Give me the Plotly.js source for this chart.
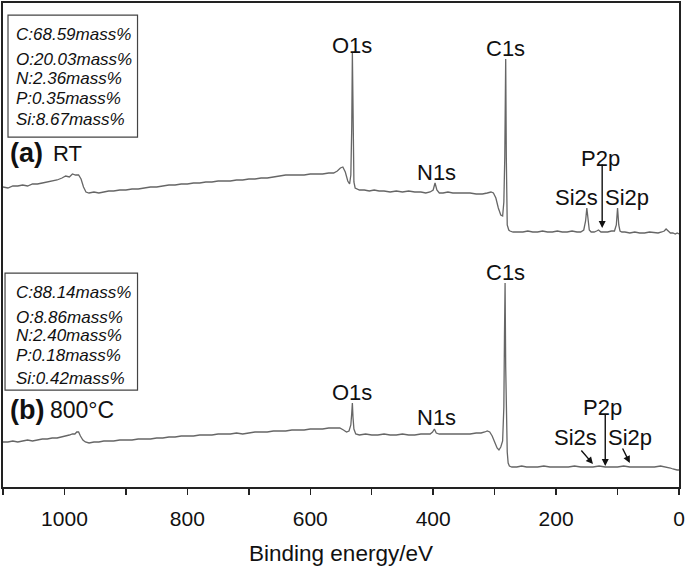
<!DOCTYPE html>
<html>
<head>
<meta charset="utf-8">
<script src="https://cdn.plot.ly/plotly-3.0.1.min.js"></script>
<style>html,body{margin:0;padding:0;background:#fff;}#chart{width:685px;height:567px;}</style>
</head>
<body>
<div id="chart"></div>
<script>
// Binding energy (eV) and intensity (a.u., stacked) for spectrum (a) RT
const energyA = [1100,1092,1084,1076,1068,1060,1052,1044,1036,1028,1020,1012,1004,998,992,987,982,977,973,969,965,960,952,944,936,928,920,910,900,890,880,870,860,850,840,830,820,810,800,790,780,770,760,750,740,730,720,710,700,690,680,670,660,650,640,630,620,610,600,590,580,570,562,556,551,547,543,539,536,534,532.5,531.5,530.5,529,527,520,512,504,496,488,480,470,460,450,440,430,420,412,405,400,397,394,390,384,376,368,360,350,340,330,320,312,306,302,298,294,290,287,285,283.5,282,281,279.5,277,275,270,262,254,246,238,230,222,214,206,198,190,182,174,166,160,155,152,150,148,146,143,138,134,131,127,122,116,110,105,102,100,98,96,93,88,80,72,64,56,48,40,34,28,24,21,18,14,10,6,3,0];
const intensityA = [300,299,301,301,302,301,303,303,304,305,306,307,309,311,310,313,312,312,308,300,295,294,295,294,295,296,296,297,297,298,298,299,300,300,301,302,302,303,303,304,304,305,305,306,306,306,307,307,308,308,309,309,310,311,312,312,312,312,313,313,313,314,314,316,319,320,315,306,303,312,360,434,360,305,299,297,297,296,297,296,296,295,296,295,296,295,295,294,295,297,304,297,294,294,295,294,294,294,294,293,293,294,295,294,289,279,272,271,285,330,428,330,262,257,256,255,255,255,256,255,255,256,255,255,256,255,255,256,255,255,257,266,279,266,257,255,255,256,257,255,255,255,256,256,262,279,262,256,255,255,254,255,254,254,255,254,254,255,256,258,256,254,254,253,254,253];
// Spectrum (b) 800 °C
const energyB = [1100,1092,1084,1076,1068,1060,1052,1044,1036,1028,1020,1012,1004,998,992,987,983,980,977,974,970,966,960,952,944,936,928,920,910,900,890,880,870,860,850,840,830,820,810,800,790,780,770,760,750,740,730,720,710,700,690,680,670,660,650,640,630,620,610,600,590,580,570,560,552,546,541,537,534,532.5,531.5,530.5,529,526,520,510,500,490,480,470,460,450,440,430,420,412,405,401,398,395,390,380,370,360,350,340,330,322,316,312,308,304,300,296,293,290,287,285,284,283,282,281,279.5,278,276,272,264,256,248,240,230,220,210,200,190,180,170,160,150,140,130,120,110,100,90,80,70,60,50,40,30,20,14,10,6,3,0];
const intensityB = [45,45,46,45,46,47,46,47,48,48,49,49,50,51,52,53,53,55,55,51,47,45,44,45,45,46,46,46,47,47,47,48,48,48,49,49,50,50,51,51,51,52,52,52,53,53,53,54,53,54,55,55,55,56,56,56,57,57,57,58,58,58,59,59,59,57,55,56,62,74,84,70,58,53,52,53,52,52,53,52,52,53,52,52,53,53,53,55,58,54,53,53,53,53,53,53,54,54,55,56,55,51,45,39,37,40,46,80,150,204,120,67,35,24,21,20,20,21,20,20,20,21,20,20,20,20,21,20,20,20,21,20,20,20,21,20,20,20,20,20,21,20,19,18,17,17,17];

const tickValues = [1000,800,600,400,200,0];
const tickLabels = ['1000','800','600','400','200','0'];
const boxA = ['C:68.59mass%','O:20.03mass%','N:2.36mass%','P:0.35mass%','Si:8.67mass%'];
const boxB = ['C:88.14mass%','O:8.86mass%','N:2.40mass%','P:0.18mass%','Si:0.42mass%'];

const FONT = 'Liberation Sans, Arial, Helvetica, sans-serif';
const lineStyle = {color:'#666666', width:1.3};

const traces = [
  {x: energyA, y: intensityA, type:'scatter', mode:'lines', line: lineStyle, hoverinfo:'skip'},
  {x: energyB, y: intensityB, type:'scatter', mode:'lines', line: lineStyle, hoverinfo:'skip'}
];

const ann = [];
function label(x, y, t, size) {
  ann.push({x:x, y:y, xref:'x', yref:'y', text:t, showarrow:false, font:{family:FONT, size:size||22, color:'#111'}});
}
label(532, 442, 'O1s'); label(283, 439, 'C1s'); label(395, 315, 'N1s');
label(127, 329, 'P2p'); label(166, 290, 'Si2s'); label(85, 290, 'Si2p');
label(532, 95, 'O1s'); label(394, 70, 'N1s'); label(283, 215, 'C1s');
label(124, 80, 'P2p'); label(168, 50, 'Si2s'); label(79, 50, 'Si2p');

function arrow(x, y, ax, ay) {
  ann.push({x:x, y:y, ax:ax, ay:ay, xref:'x', yref:'y', axref:'x', ayref:'y', text:'', showarrow:true,
            arrowhead:2, arrowsize:1, arrowwidth:1.4, arrowcolor:'#111'});
}
arrow(125, 259, 125, 324);
arrow(120, 21, 120, 74);
arrow(140, 23, 161, 38);
arrow(80, 24, 93, 40);

const yA = [0.934, 0.884, 0.843, 0.802, 0.760];
const yB = [0.401, 0.351, 0.312, 0.271, 0.225];
boxA.forEach((t,i)=>ann.push({x:0.0163, y:yA[i], xref:'paper', yref:'paper', xanchor:'left', yanchor:'middle', text:'<i>'+t+'</i>', showarrow:false, font:{family:FONT, size:17, color:'#111'}}));
boxB.forEach((t,i)=>ann.push({x:0.0163, y:yB[i], xref:'paper', yref:'paper', xanchor:'left', yanchor:'middle', text:'<i>'+t+'</i>', showarrow:false, font:{family:FONT, size:17, color:'#111'}}));

ann.push({x:0.007, y:0.690, xref:'paper', yref:'paper', xanchor:'left', yanchor:'middle', text:'<b>(a)</b>', showarrow:false, font:{family:FONT, size:27, color:'#111'}});
ann.push({x:0.071, y:0.690, xref:'paper', yref:'paper', xanchor:'left', yanchor:'middle', text:'RT', showarrow:false, font:{family:FONT, size:22, color:'#111'}});
ann.push({x:0.007, y:0.159, xref:'paper', yref:'paper', xanchor:'left', yanchor:'middle', text:'<b>(b)</b>', showarrow:false, font:{family:FONT, size:27, color:'#111'}});
ann.push({x:0.066, y:0.159, xref:'paper', yref:'paper', xanchor:'left', yanchor:'middle', text:'800°C', showarrow:false, font:{family:FONT, size:23, color:'#111'}});

const shapes = [
  {type:'rect', xref:'paper', yref:'paper', x0:0.0074, x1:0.199, y0:0.723, y1:0.975, line:{color:'#444', width:1.2}},
  {type:'rect', xref:'paper', yref:'paper', x0:0.003, x1:0.199, y0:0.200, y1:0.442, line:{color:'#444', width:1.2}}
];

const layout = {
  width:685, height:567,
  margin:{l:3, r:6, t:3, b:80},
  paper_bgcolor:'#fff', plot_bgcolor:'#fff',
  showlegend:false,
  font:{family:FONT, color:'#111'},
  xaxis:{range:[1100,0], tickvals:tickValues, ticktext:tickLabels, ticks:'outside', ticklen:6, tickwidth:1.5, tickcolor:'#222',
         minor:{tickvals:[1100,900,700,500,300,100], ticks:'outside', ticklen:6, tickwidth:1.5, tickcolor:'#222'},
         showline:true, mirror:true, linecolor:'#222', linewidth:1.6, showgrid:false, zeroline:false,
         ticklabelstandoff:6,
         tickfont:{family:FONT, size:21, color:'#111'},
         title:{text:'Binding energy/eV', font:{family:FONT, size:22.5, color:'#111'}, standoff:16}},
  yaxis:{range:[0,484], showline:true, mirror:true, linecolor:'#222', linewidth:1.6, showticklabels:false, ticks:'', showgrid:false, zeroline:false},
  annotations: ann,
  shapes: shapes
};
Plotly.newPlot('chart', traces, layout, {staticPlot:true, displayModeBar:false});
</script>
</body>
</html>
